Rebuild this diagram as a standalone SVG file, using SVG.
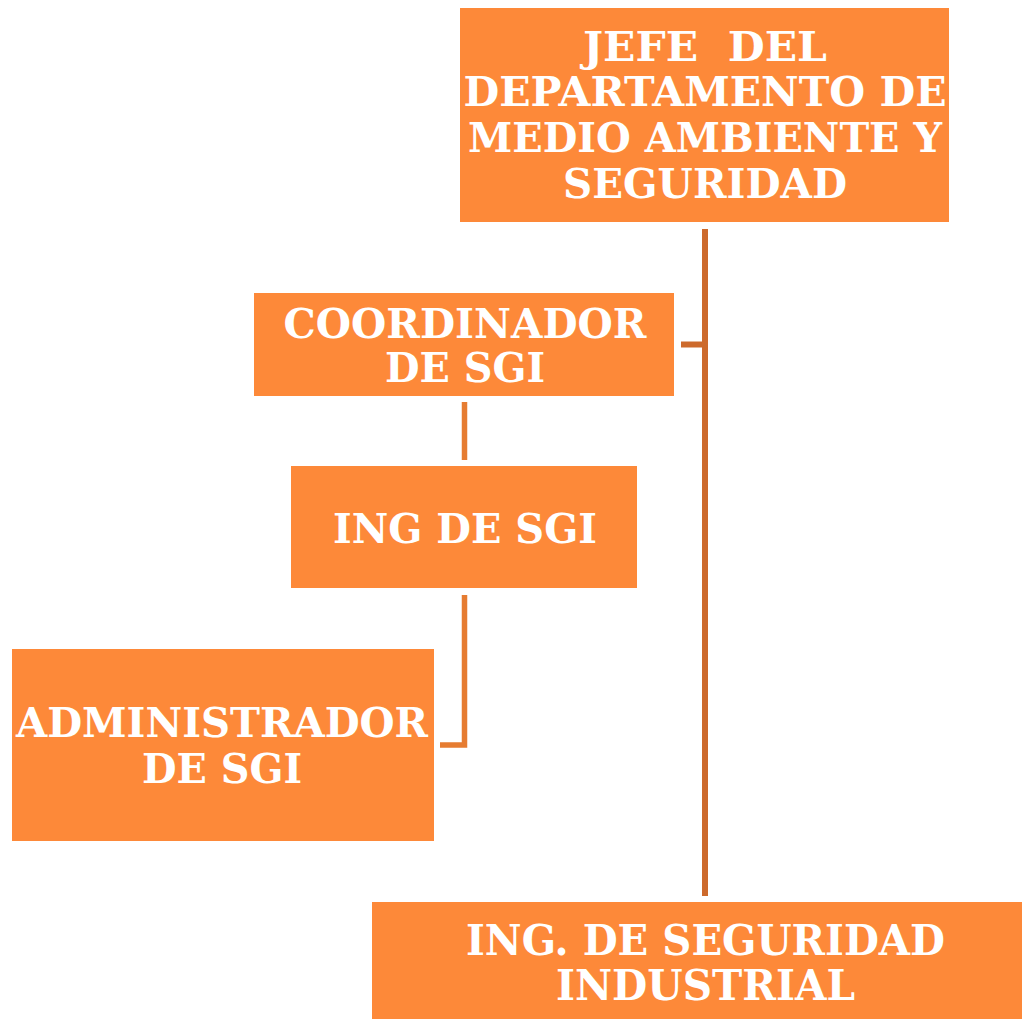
<svg xmlns="http://www.w3.org/2000/svg" width="1022" height="1019" viewBox="0 0 1022 1019">
<style>
.box{fill:#FD8939;}
.t{font-family:"DejaVu Serif","Liberation Serif",serif;font-weight:bold;font-size:41px;fill:#FFFFFF;text-anchor:middle;}
.tn{font-family:"DejaVu Serif","Liberation Serif",serif;font-weight:bold;font-size:42px;fill:#FFFFFF;text-anchor:middle;}
.c1{stroke:#CD6A2C;stroke-width:6;fill:none;}
.c2{stroke:#E67C31;stroke-width:5.5;fill:none;}
</style>
<rect width="1022" height="1019" fill="#FFFFFF"/>
<g id="connectors">
<path class="c1" d="M705,229 V896"/>
<path class="c1" d="M681,344.5 H705"/>
<path class="c2" d="M464.5,402 V460"/>
<path class="c2" d="M464.5,595 V745 H440"/>
</g>
<g id="jefe">
<rect class="box" x="460" y="8" width="489" height="214"/>
<text class="t" x="705" y="61" textLength="244" lengthAdjust="spacingAndGlyphs" xml:space="preserve" style="white-space:pre">JEFE  DEL</text>
<text class="t" x="705" y="106" textLength="483" lengthAdjust="spacingAndGlyphs">DEPARTAMENTO DE</text>
<text class="t" x="705" y="152" textLength="474" lengthAdjust="spacingAndGlyphs">MEDIO AMBIENTE Y</text>
<text class="t" x="705" y="198" textLength="284" lengthAdjust="spacingAndGlyphs">SEGURIDAD</text>
</g>
<g id="coordinador">
<rect class="box" x="254" y="293" width="420" height="103"/>
<text class="t" x="465" y="338" textLength="363" lengthAdjust="spacingAndGlyphs">COORDINADOR</text>
<text class="t" x="465" y="382" textLength="160" lengthAdjust="spacingAndGlyphs">DE SGI</text>
</g>
<g id="ing_sgi">
<rect class="box" x="291" y="466" width="346" height="122"/>
<text class="t" x="465" y="543" textLength="264" lengthAdjust="spacingAndGlyphs">ING DE SGI</text>
</g>
<g id="administrador">
<rect class="box" x="12" y="649" width="422" height="192"/>
<text class="t" x="222" y="737" textLength="412" lengthAdjust="spacingAndGlyphs">ADMINISTRADOR</text>
<text class="t" x="222" y="783" textLength="160" lengthAdjust="spacingAndGlyphs">DE SGI</text>
</g>
<g id="ing_seguridad">
<rect class="box" x="372" y="902" width="650" height="117"/>
<text class="tn" x="705.5" y="955" textLength="479" lengthAdjust="spacingAndGlyphs">ING. DE SEGURIDAD</text>
<text class="tn" x="705.5" y="1000" textLength="299" lengthAdjust="spacingAndGlyphs">INDUSTRIAL</text>
</g>
</svg>
